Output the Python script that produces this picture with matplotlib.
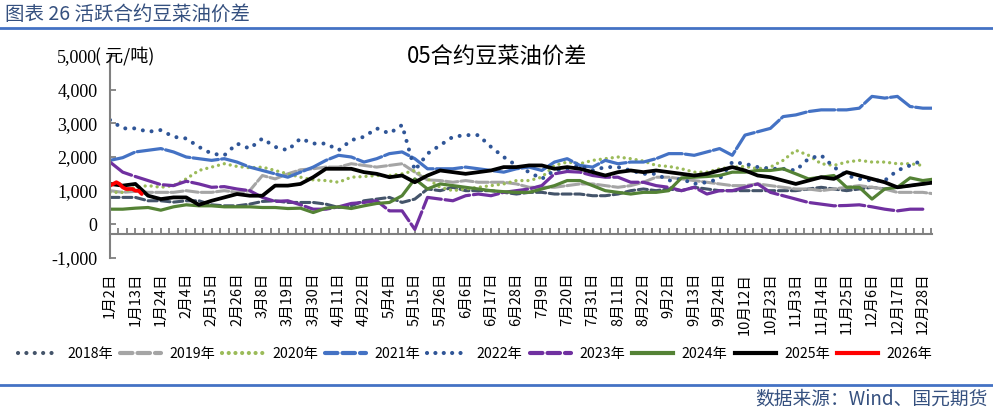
import matplotlib.pyplot as plt
from matplotlib.lines import Line2D
from matplotlib.ticker import FuncFormatter
import numpy as np

plt.rcParams['font.family'] = ['Noto Sans CJK SC', 'DejaVu Sans']

# trading-day axis: one label every 8 trading days, series sampled every 4 days
date_labels = ['1月2日', '1月13日', '1月24日', '2月4日', '2月15日', '2月26日',
               '3月8日', '3月19日', '3月30日', '4月11日', '4月22日', '5月4日',
               '5月15日', '5月26日', '6月6日', '6月17日', '6月28日', '7月9日',
               '7月20日', '7月31日', '8月11日', '8月22日', '9月2日', '9月13日',
               '9月24日', '10月12日', '10月23日', '11月3日', '11月14日',
               '11月25日', '12月6日', '12月17日', '12月28日']
years = ['2018年', '2019年', '2020年', '2021年', '2022年',
         '2023年', '2024年', '2025年', '2026年']

y2018 = [800, 800, 800, 700, 700, 660, 700, 700, 580, 550,
         550, 600, 680, 700, 650, 650, 650, 600, 500, 550,
         700, 750, 800, 650, 750, 1050, 1000, 1100, 1000, 1000,
         1000, 950, 900, 950, 950, 900, 900, 900, 850, 850,
         900, 1000, 1050, 1000, 1050, 1000, 1100, 1050, 1000, 1000,
         1000, 1000, 1000, 1000, 1000, 1050, 1100, 1050, 1000, 1050,
         1100, 1050, 1100, 1150, 1200, 1250]
y2019 = [1000, 950, 980, 950, 950, 950, 1000, 950, 950, 1000,
         950, 1000, 1450, 1350, 1500, 1620, 1650, 1700, 1700, 1800,
         1750, 1700, 1750, 1800, 1550, 1320, 1300, 1250, 1300, 1250,
         1250, 1250, 1200, 1100, 1100, 1100, 1150, 1200, 1200, 1150,
         1100, 1150, 1250, 1400, 1400, 1350, 1300, 1250, 1200, 1150,
         1150, 1200, 1150, 1100, 1050, 1050, 1000, 1050, 1100, 1150,
         1100, 1050, 950, 950, 950, 900]
y2020 = [950, 950, 1100, 1150, 1100, 1150, 1350, 1600, 1700, 1800,
         1720, 1680, 1700, 1600, 1500, 1400, 1320, 1300, 1250, 1400,
         1420, 1450, 1450, 1500, 1600, 1350, 1100, 1000, 1050, 1100,
         1150, 1200, 1300, 1300, 1400, 1750, 1850, 1800, 1900, 1950,
         2000, 1950, 1880, 1750, 1720, 1650, 1550, 1550, 1650, 1700,
         1720, 1650, 1700, 1900, 2200, 2050, 1800, 1750, 1850, 1900,
         1850, 1850, 1800, 1800, 1750]
y2021 = [1900, 1980, 2150, 2200, 2250, 2150, 2000, 1950, 1900, 1950,
         1850, 1700, 1600, 1500, 1400, 1550, 1700, 1900, 2050, 2000,
         1850, 1950, 2100, 2150, 1950, 1650, 1650, 1650, 1700, 1650,
         1600, 1550, 1650, 1700, 1600, 1850, 1950, 1750, 1700, 1900,
         1800, 1850, 1850, 1950, 2100, 2100, 2050, 2150, 2250, 2050,
         2650, 2750, 2850, 3200, 3250, 3350, 3400, 3400, 3400, 3450,
         3800, 3750, 3800, 3500, 3450, 3450]
y2022 = [3100, 2850, 2850, 2750, 2800, 2600, 2550, 2300, 2100, 2050,
         2400, 2250, 2550, 2300, 2200, 2550, 2400, 2400, 2200, 2500,
         2600, 2850, 2700, 2950, 1600, 2100, 2350, 2600, 2650, 2650,
         2300, 2000, 1750, 1550, 1350, 1600, 1650, 1750, 1600, 1700,
         1700, 1600, 1500, 1500, 1300, 1350, 1200, 1250, 1350, 1850,
         1800, 1700, 1650, 1650, 1600, 1950, 2050, 1700, 1450, 1350,
         1300, 1300, 1600, 1750, 1900]
y2023 = [1850, 1550, 1420, 1300, 1180, 1150, 1280, 1200, 1100, 1120,
         1050, 1000, 800, 680, 700, 580, 450, 450, 520, 620,
         650, 700, 400, 400, -150, 800, 750, 700, 850, 900,
         850, 950, 1000, 1050, 1150, 1500, 1570, 1550, 1450, 1400,
         1400, 1250, 1250, 1150, 1100, 1000, 1100, 900, 1000, 1000,
         1100, 1200, 950, 850, 750, 650, 600, 550, 560, 580,
         520, 450, 400, 450, 450]
y2024 = [450, 450, 480, 500, 420, 520, 580, 550, 550, 520,
         520, 520, 500, 500, 470, 480, 350, 480, 520, 470,
         550, 620, 650, 850, 1350, 1050, 1200, 1150, 1100, 1050,
         1000, 970, 950, 950, 1050, 1150, 1300, 1300, 1150, 1000,
         950, 900, 950, 950, 1000, 1380, 1400, 1420, 1450, 1550,
         1550, 1600, 1600, 1650, 1500, 1350, 1400, 1450, 1100, 1100,
         750, 1050, 1100, 1380, 1300, 1350]
y2025 = [1200, 1150, 1200, 850, 750, 800, 800, 580, 700, 800,
         900, 850, 850, 1150, 1150, 1200, 1400, 1650, 1650, 1650,
         1550, 1500, 1400, 1450, 1250, 1450, 1600, 1550, 1500, 1550,
         1600, 1700, 1700, 1750, 1750, 1650, 1700, 1650, 1550, 1450,
         1550, 1600, 1550, 1600, 1550, 1500, 1450, 1500, 1600, 1700,
         1600, 1450, 1400, 1300, 1200, 1300, 1400, 1350, 1550, 1450,
         1350, 1250, 1100, 1150, 1200, 1250]
# 2026: daily values so far
y2026 = [1150, 1200, 1250, 1200, 1100, 1050, 1050, 1050, 1000, 1000, 900]

series = [y2018, y2019, y2020, y2021, y2022, y2023, y2024, y2025, y2026]
steps = [4, 4, 4, 4, 4, 4, 4, 4, 1]

colors = ['#44546A', '#A5A5A5', '#9BBB59', '#4472C4', '#2F5597',
          '#7030A0', '#548235', '#000000', '#FF0000']
plot_ls = [(0, (3, 1.2)), (0, (4, 1)), (0, (0.01, 1.8)), (0, (8, 1)),
           (0, (0.01, 2.2)), (0, (8, 1.2)), '-', '-', '-']
plot_lw = [2.2, 2.2, 2.4, 2.3, 2.9, 2.3, 2.3, 2.7, 2.7]
leg_ls = [(0, (0.01, 2)), (0, (3, 1.2)), (0, (0.01, 1.6)), (0, (3, 1.2)),
          (0, (0.01, 2)), (0, (3, 1.2)), '-', '-', '-']

fig = plt.figure(figsize=(9.93, 4.13), dpi=100)
ax = fig.add_axes([110 / 993, 1 - 258 / 413, (932 - 110) / 993, (258 - 56) / 413])

for vals, st, c, ls, lw in zip(series, steps, colors, plot_ls, plot_lw):
    x = np.arange(len(vals)) * st
    ax.plot(x, vals, color=c, linestyle=ls, lw=lw,
            dash_capstyle='round', solid_capstyle='round', solid_joinstyle='round')

ax.set_xlim(0, 258.9)
ax.set_ylim(-1000, 5000)

for s in ['top', 'right']:
    ax.spines[s].set_visible(False)
for s in ['left', 'bottom']:
    ax.spines[s].set_color('#808080')
    ax.spines[s].set_linewidth(1.5)
ax.spines['bottom'].set_position(('data', -280))

ax.set_xticks(np.arange(len(date_labels)) * 8)
ax.set_xticklabels(date_labels, rotation=90, fontsize=10.5)
ax.set_xticks(np.arange(0, 259, 8 / 3), minor=True)
ax.tick_params(axis='x', which='both', direction='in', length=4.5,
               width=1.3, color='#808080', pad=28)

ax.set_yticks(range(-1000, 5001, 1000))
ax.yaxis.set_major_formatter(FuncFormatter(lambda v, p: '{:,.0f}'.format(v)))
ax.tick_params(axis='y', direction='in', length=4.5, width=1.3,
               color='#808080', pad=9)
for t in ax.get_yticklabels():
    t.set_fontfamily('Liberation Serif')
    t.set_fontsize(13)

fig.text(497 / 993, 1 - 57 / 413, '05合约豆菜油价差', ha='center', va='center', fontsize=16)
fig.text(95 / 993, 1 - 57 / 413, '( 元/吨)', ha='left', va='center', fontsize=13)

hdr = '#35507F'
fig.text(5 / 993, 1 - 14 / 413, '图表 26 活跃合约豆菜油价差', ha='left', va='center',
         fontsize=14, color=hdr)
fig.add_artist(Line2D([0, 1], [1 - 28 / 413] * 2, color='#4472C4', lw=2,
                      transform=fig.transFigure))
fig.add_artist(Line2D([0, 1], [1 - 385 / 413] * 2, color='#4472C4', lw=2,
                      transform=fig.transFigure))
fig.text(988 / 993, 1 - 399 / 413, '数据来源：Wind、国元期货', ha='right', va='center',
         fontsize=13.5, color=hdr)

handles = [Line2D([], [], color=c, linestyle=ls, lw=3, dash_capstyle='round')
           for c, ls in zip(colors, leg_ls)]
fig.legend(handles, years, loc='center', bbox_to_anchor=(475 / 993, 1 - 354 / 413),
           ncol=9, frameon=False, fontsize=10.2, handlelength=2.9,
           handletextpad=0.6, columnspacing=0.5)

fig.savefig('out.png', dpi=100)
